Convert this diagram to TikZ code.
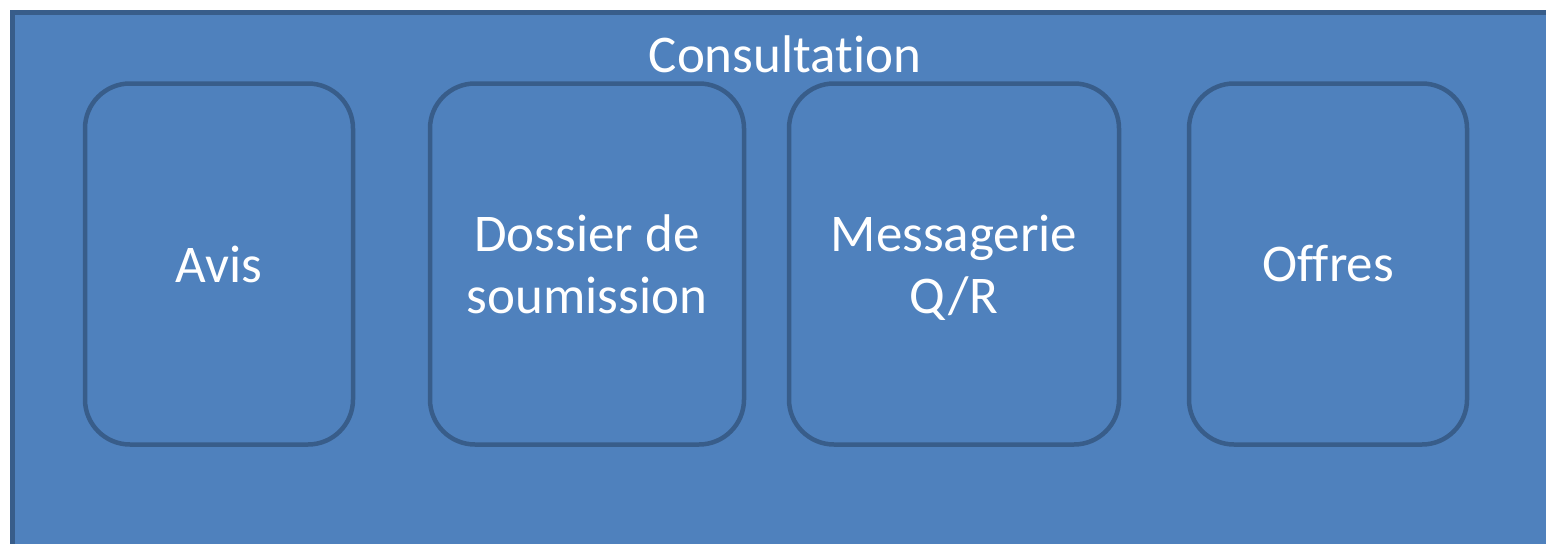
\documentclass[tikz,border=0pt]{standalone}
\usepackage{fontspec}
\setmainfont[Ligatures={NoCommon}]{Carlito}
\definecolor{panelfill}{HTML}{4F81BD}
\definecolor{panelline}{HTML}{385D8A}

\begin{document}
\begin{tikzpicture}[x=1pt, y=-1pt,
    modulebox/.style={draw=panelline, line width=4.5pt, rounded corners=45pt,
      minimum height=361pt, align=center, text=white,
      font=\fontsize{53}{62}\selectfont}]
      \clip (0, 0) rectangle (1546, 543);
      \draw [fill=panelfill, draw=panelline, line width=5pt] (12.5, 12.5) rectangle (1600, 600);
      \node [anchor=base, text=white, font=\fontsize{53}{62}\selectfont] (titre) at (785, 72) {Consultation};
      \node [modulebox, minimum width=268pt] (avis) at (219, 264) {Avis};
      \node [modulebox, minimum width=314pt] (dossier) at (587, 264) {Dossier de\\soumission};
      \node [modulebox, minimum width=330pt] (messagerie) at (954, 264) {Messagerie\\\raisebox{0pt}[\height][0pt]{Q/R}};
      \node [modulebox, minimum width=278pt] (offres) at (1328, 264) {Offres};
    \end{tikzpicture}
\end{document}
